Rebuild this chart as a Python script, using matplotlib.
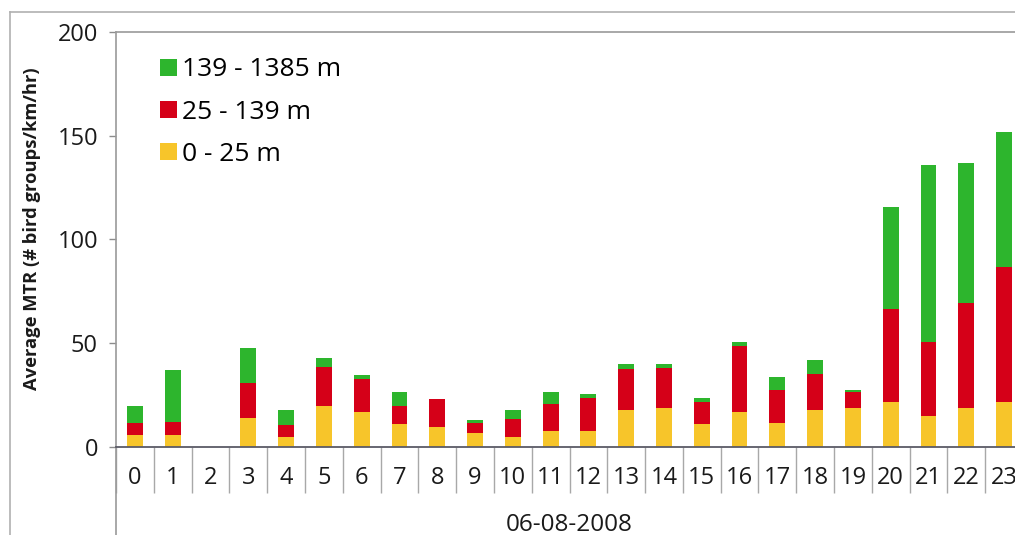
import matplotlib
matplotlib.use("Agg")
import matplotlib.pyplot as plt
from matplotlib.patches import Patch
from matplotlib.lines import Line2D
import numpy as np

# Hourly average migration traffic rate, split by altitude band
hours = [str(h) for h in range(24)]
low_0_25 = [6, 6, 0, 14, 5, 19.6, 17, 11, 9.7, 6.8, 4.9, 7.8, 7.8, 17.7, 18.9, 10.9, 16.8, 11.7, 17.7, 18.7, 21.6, 14.9, 18.7, 21.6]
mid_25_139 = [5.8, 6, 0, 16.7, 5.8, 19, 16, 8.6, 13.2, 4.9, 8.8, 12.8, 15.7, 19.8, 19.4, 10.7, 31.8, 15.9, 17.7, 7.9, 45.1, 35.6, 50.9, 65.2]
high_139_1385 = [8, 25, 0, 17.1, 7, 4.2, 1.9, 7.1, 0, 1.2, 4, 6, 2.2, 2.3, 1.5, 2.1, 2.1, 6.2, 6.3, 1.1, 49.1, 85.4, 67.4, 64.9]

series_labels = ["0 - 25 m", "25 - 139 m", "139 - 1385 m"]
colors = ["#F7C52A", "#D50018", "#2DB52D"]
y_ticks = [0, 50, 100, 150, 200]

plt.rcParams['font.family'] = ['Open Sans', 'DejaVu Sans']

W, H = 1015, 535
fig = plt.figure(figsize=(W / 100, H / 100), dpi=100)

ax_left, ax_right, ax_top, ax_bottom = 116, 1023, 32, 447
ax = fig.add_axes([ax_left / W, 1 - ax_bottom / H,
                   (ax_right - ax_left) / W, (ax_bottom - ax_top) / H])

x = np.arange(len(hours))
bar_w = 0.42
bottom = np.zeros(len(hours))
for vals, col in zip([low_0_25, mid_25_139, high_139_1385], colors):
    vals = np.asarray(vals, dtype=float)
    ax.bar(x, vals, bar_w, bottom=bottom, color=col, linewidth=0, zorder=2)
    bottom += vals

ax.set_xlim(-0.5, len(hours) - 0.5)
ax.set_ylim(0, 200)
ax.set_yticks(y_ticks)
ax.tick_params(axis='y', length=5, width=1, color='#8c8c8c', labelsize=17,
               pad=8, labelcolor='#1a1a1a')

# Category labels between separators that hang below the baseline
ax.set_xticks(x)
ax.set_xticklabels(hours)
ax.tick_params(axis='x', which='major', length=0, labelsize=17, pad=14,
               labelcolor='#1a1a1a')
ax.set_xticks(np.arange(-0.5, len(hours)), minor=True)
ax.tick_params(axis='x', which='minor', length=33, width=1, color='#a8a8a8',
               direction='out')

for side in ['top', 'right', 'left']:
    ax.spines[side].set_color('#9a9a9a')
    ax.spines[side].set_linewidth(1.2)
ax.spines['bottom'].set_color('#5a5a66')
ax.spines['bottom'].set_linewidth(1.3)

# Left spine continues down through the category band
ax.add_line(Line2D([0, 0], [0, -(H - ax_bottom) / (ax_bottom - ax_top)],
                   transform=ax.transAxes, color='#9a9a9a', lw=1.2,
                   clip_on=False))

ax.set_ylabel("Average MTR (# bird groups/km/hr)", fontsize=13.2,
              fontweight='bold', color='#1a1a1a')
ax.yaxis.set_label_coords(-0.083, 0.526)
ax.set_xlabel("06-08-2008", fontsize=17.5, color='#1a1a1a', labelpad=11)

handles = [Patch(facecolor=c, edgecolor='none') for c in colors[::-1]]
ax.legend(handles, series_labels[::-1], loc='upper left',
          bbox_to_anchor=(0.031, 0.977), frameon=False, fontsize=19,
          handlelength=0.64, handleheight=0.62, handletextpad=0.2,
          labelspacing=0.66, borderaxespad=0.2)

# Outer frame lines
fig.add_artist(Line2D([10 / W, 1], [1 - 12 / H, 1 - 12 / H],
                      transform=fig.transFigure, color='#b0b0b0', lw=1.2))
fig.add_artist(Line2D([10 / W, 10 / W], [0, 1 - 12 / H],
                      transform=fig.transFigure, color='#b0b0b0', lw=1.2))

fig.savefig("out.png", dpi=100)
